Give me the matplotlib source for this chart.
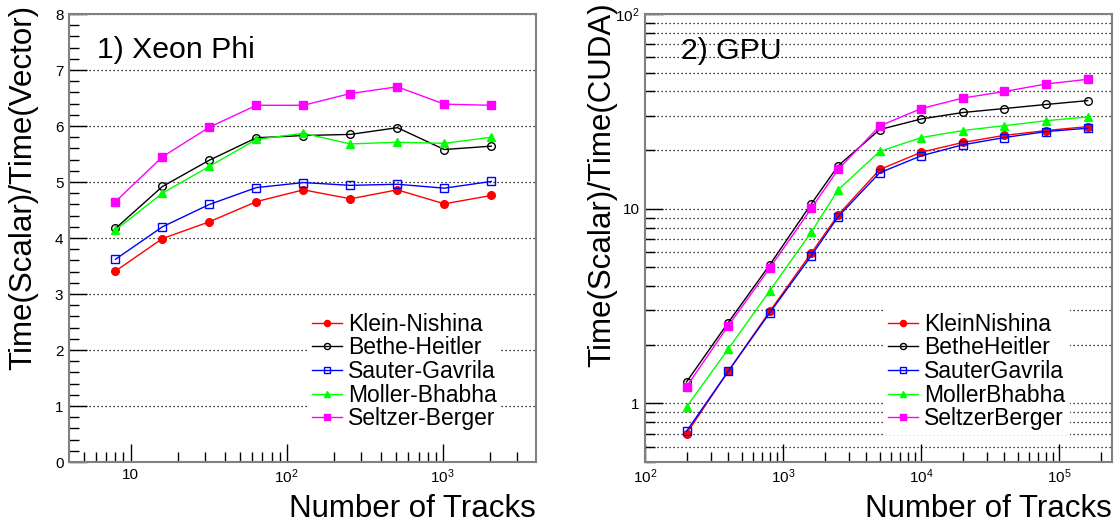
import numpy as np
import matplotlib
matplotlib.use("Agg")
import matplotlib.pyplot as plt
from matplotlib.ticker import LogLocator, MultipleLocator, NullFormatter, FuncFormatter

plt.rcParams['font.family'] = ['Liberation Sans', 'DejaVu Sans']
plt.rcParams['mathtext.fontset'] = 'custom'
plt.rcParams['mathtext.rm'] = 'Liberation Sans'

# Xeon Phi speed-up, scalar vs vector
phi_tracks = [8, 16, 32, 64, 128, 256, 512, 1024, 2048]
phi_klein = [3.41, 3.99, 4.29, 4.65, 4.86, 4.70, 4.86, 4.61, 4.76]
phi_bethe = [4.17, 4.92, 5.39, 5.79, 5.83, 5.85, 5.97, 5.58, 5.64]
phi_sauter = [3.62, 4.20, 4.60, 4.90, 4.99, 4.94, 4.96, 4.89, 5.01]
phi_moller = [4.14, 4.80, 5.28, 5.76, 5.87, 5.68, 5.71, 5.69, 5.80]
phi_seltzer = [4.65, 5.45, 5.98, 6.37, 6.37, 6.58, 6.70, 6.39, 6.37]
phi_names = ["Klein-Nishina", "Bethe-Heitler", "Sauter-Gavrila", "Moller-Bhabha", "Seltzer-Berger"]

# GPU speed-up, scalar vs CUDA
gpu_tracks = [200, 400, 800, 1600, 2500, 5000, 10000, 20000, 40000, 80000, 160000]
gpu_klein = [0.70, 1.46, 2.97, 5.92, 9.29, 15.9, 19.5, 21.9, 23.8, 25.2, 26.4]
gpu_bethe = [1.29, 2.60, 5.15, 10.6, 16.6, 25.5, 28.9, 31.2, 32.7, 34.3, 35.9]
gpu_sauter = [0.72, 1.46, 2.92, 5.74, 9.1, 15.3, 18.7, 21.3, 23.2, 24.9, 25.9]
gpu_moller = [0.96, 1.90, 3.79, 7.59, 12.5, 19.7, 23.2, 25.2, 26.7, 28.3, 29.6]
gpu_seltzer = [1.22, 2.50, 4.96, 10.04, 15.9, 26.6, 32.7, 37.0, 40.0, 43.7, 46.2]
gpu_names = ["KleinNishina", "BetheHeitler", "SauterGavrila", "MollerBhabha", "SeltzerBerger"]

# marker style per model: (color, marker, filled, size)
styles = [("#ff0000", "o", True, 5.5), ("#000000", "o", False, 5.5), ("#0000ff", "s", False, 5.5),
          ("#00ff00", "^", True, 6), ("#ff00ff", "s", True, 5.5)]

W, H = 1114, 529
fig = plt.figure(figsize=(W / 100, H / 100), dpi=100)

def px_box(x0, y0, x1, y1):
    return [x0 / W, 1 - y1 / H, (x1 - x0) / W, (y1 - y0) / H]

ax1 = fig.add_axes(px_box(69, 14, 536, 462))
ax2 = fig.add_axes(px_box(645, 14, 1112, 462))

def draw(ax, x, series, names):
    for y, name, (c, m, filled, ms) in zip(series, names, styles):
        ax.plot(x, y, color=c, lw=1, marker=m, ms=ms,
                mfc=c if filled else "none", mec=c, mew=1, label=name)

def frame(ax):
    for s in ax.spines.values():
        s.set_color("#808080")
        s.set_linewidth(1.5)
    ax.tick_params(which="both", direction="in", top=False, right=False,
                   labelsize=11, colors="black", width=1, pad=4)
    ax.tick_params(which="major", length=13)
    ax.tick_params(which="minor", length=7)

def legend(ax, x0):
    ax.legend(loc="upper left", bbox_to_anchor=(x0 / W, 1 - 308 / H), bbox_transform=fig.transFigure,
              fontsize=16.5, frameon=True, facecolor="white", edgecolor="none", framealpha=1,
              fancybox=False, borderpad=0.2, borderaxespad=0, handlelength=1.31,
              handletextpad=0.28, labelspacing=0.03, markerscale=0.8)

dots = (0, (1, 2.2))

# ---- panel 1: Xeon Phi
draw(ax1, phi_tracks, [phi_klein, phi_bethe, phi_sauter, phi_moller, phi_seltzer], phi_names)
ax1.set_xscale("log")
ax1.set_xlim(4.03, 3960)
ax1.set_ylim(0, 8)
ax1.yaxis.set_major_locator(MultipleLocator(1))
ax1.yaxis.set_minor_locator(MultipleLocator(0.2))
ax1.xaxis.set_major_locator(LogLocator(base=10))
ax1.xaxis.set_minor_locator(LogLocator(base=10, subs=np.arange(2, 10)))
ax1.xaxis.set_minor_formatter(NullFormatter())
ax1.xaxis.set_major_formatter(FuncFormatter(
    lambda v, p: "10" if abs(v - 10) < 1e-6 else r"$\mathdefault{10^{%d}}$" % round(np.log10(v))))
ax1.yaxis.grid(True, which="major", linestyle=dots, color="black", lw=0.9)
frame(ax1)
ax1.set_ylabel("Time(Scalar)/Time(Vector)", fontsize=22.5, loc="top")
ax1.yaxis.set_label_coords(-0.0664, 1.02)
ax1.set_xlabel("Number of Tracks", fontsize=22.5, loc="right")
ax1.xaxis.set_label_coords(1.0, -0.0708)
ax1.text(97 / W, 1 - 58 / H, "1) Xeon Phi", transform=fig.transFigure, fontsize=21.8, va="baseline")
legend(ax1, 307)

# ---- panel 2: GPU
draw(ax2, gpu_tracks, [gpu_klein, gpu_bethe, gpu_sauter, gpu_moller, gpu_seltzer], gpu_names)
ax2.set_xscale("log")
ax2.set_yscale("log")
ax2.set_xlim(100, 2.4e5)
ax2.set_ylim(0.5, 100)
ax2.xaxis.set_major_locator(LogLocator(base=10))
ax2.xaxis.set_minor_locator(LogLocator(base=10, subs=np.arange(2, 10)))
ax2.yaxis.set_major_locator(LogLocator(base=10))
ax2.yaxis.set_minor_locator(LogLocator(base=10, subs=np.arange(2, 10)))
ax2.xaxis.set_minor_formatter(NullFormatter())
ax2.yaxis.set_minor_formatter(NullFormatter())
ax2.xaxis.set_major_formatter(FuncFormatter(
    lambda v, p: r"$\mathdefault{10^{%d}}$" % round(np.log10(v))))
ax2.yaxis.set_major_formatter(FuncFormatter(
    lambda v, p: {0: "1", 1: "10"}.get(round(np.log10(v)), r"$\mathdefault{10^{%d}}$" % round(np.log10(v)))))
ax2.yaxis.grid(True, which="both", linestyle=dots, color="black", lw=0.9)
frame(ax2)
ax2.set_ylabel("Time(Scalar)/Time(CUDA)", fontsize=22.5, loc="top")
ax2.yaxis.set_label_coords(-0.0589, 1.0268)
ax2.set_xlabel("Number of Tracks", fontsize=22.5, loc="right")
ax2.xaxis.set_label_coords(1.0, -0.0708)
ax2.text(681 / W, 1 - 59 / H, "2) GPU", transform=fig.transFigure, fontsize=21.8, va="baseline")
legend(ax2, 883)

fig.savefig("out.png", dpi=100)
